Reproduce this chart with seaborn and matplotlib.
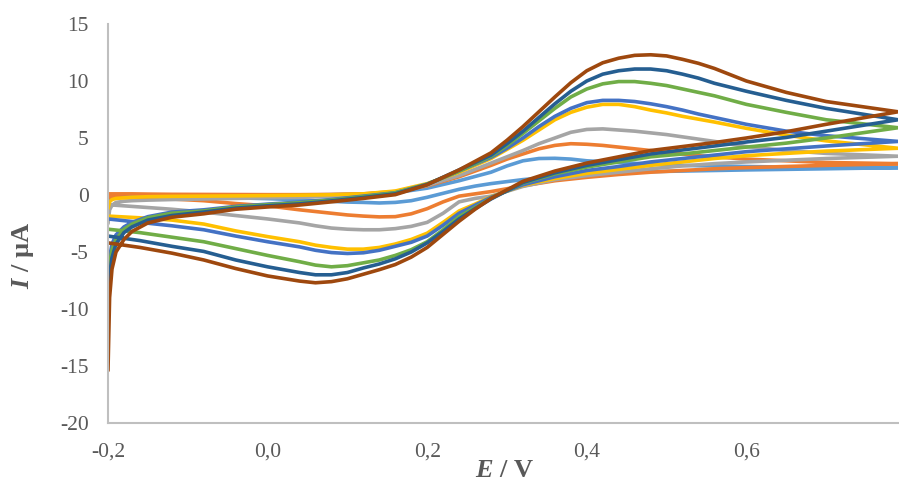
import numpy as np
import pandas as pd
import seaborn as sns
import matplotlib.pyplot as plt

# potentials (V) of the read points: anodic sweep, then cathodic sweep
E_fwd = [-0.2, -0.198, -0.195, -0.19, -0.18, -0.17, -0.15, -0.12, -0.08, -0.04,
         0.0, 0.04, 0.08, 0.12, 0.16, 0.2, 0.24, 0.28,
         0.30, 0.32, 0.34, 0.36, 0.38, 0.40, 0.42, 0.44, 0.46, 0.48, 0.50, 0.52, 0.54, 0.56,
         0.60, 0.65, 0.70, 0.79]
E_rev = [0.79, 0.70, 0.65, 0.60, 0.56, 0.52, 0.48, 0.44, 0.40, 0.36, 0.32,
         0.28, 0.26, 0.24, 0.22, 0.20, 0.18, 0.16, 0.14, 0.12, 0.10, 0.08, 0.06, 0.04,
         0.0, -0.04, -0.08, -0.12, -0.16, -0.2]

# currents (uA), one pair of sweeps per scan rate
lightblue_fwd = [-0.8, -0.5, -0.3, -0.2, -0.15, -0.12, -0.1, -0.08, -0.06, -0.04,
                 -0.02, 0.0, 0.03, 0.08, 0.2, 0.6, 1.25, 2.0,
                 2.55, 3.0, 3.2, 3.22, 3.15, 3.0, 2.92, 2.85, 2.78, 2.7, 2.65, 2.6, 2.57, 2.55,
                 2.5, 2.45, 2.42, 2.4]
lightblue_rev = [2.4, 2.3, 2.25, 2.2, 2.15, 2.1, 2.05, 1.95, 1.8, 1.6, 1.35,
                 1.0, 0.78, 0.5, 0.15, -0.2, -0.5, -0.65, -0.7, -0.65, -0.62, -0.55, -0.5, -0.42,
                 -0.32, -0.25, -0.2, -0.15, -0.1, -0.05]
orange_fwd = [0.1, 0.1, 0.1, 0.1, 0.1, 0.1, 0.08, 0.06, 0.05, 0.04,
              0.03, 0.03, 0.05, 0.1, 0.3, 0.8, 1.6, 2.6,
              3.15, 3.6, 4.05, 4.35, 4.5, 4.45, 4.35, 4.2, 4.05, 3.9, 3.75, 3.6, 3.45, 3.35,
              3.15, 3.0, 2.85, 2.75]
orange_rev = [2.75, 2.6, 2.5, 2.4, 2.3, 2.15, 2.0, 1.8, 1.55, 1.25, 0.8,
              0.3, 0.1, -0.1, -0.6, -1.2, -1.65, -1.9, -1.92, -1.85, -1.75, -1.6, -1.45, -1.3,
              -0.95, -0.75, -0.5, -0.35, -0.25, -0.2]
gray_fwd = [-2.5, -1.3, -0.9, -0.65, -0.55, -0.5, -0.45, -0.4, -0.35, -0.3,
            -0.25, -0.2, -0.12, 0.0, 0.25, 0.85, 1.7, 2.8,
            3.35, 3.9, 4.5, 5.0, 5.5, 5.75, 5.8, 5.7, 5.6, 5.45, 5.3, 5.1, 4.9, 4.7,
            4.25, 3.9, 3.65, 3.4]
gray_rev = [3.4, 3.2, 3.05, 2.9, 2.75, 2.55, 2.3, 2.0, 1.7, 1.35, 0.75,
            -0.1, -0.3, -0.6, -1.6, -2.4, -2.75, -2.95, -3.05, -3.05, -3.0, -2.9, -2.7, -2.45,
            -2.1, -1.8, -1.5, -1.25, -1.05, -0.85]
yellow_fwd = [-1.2, -0.6, -0.4, -0.3, -0.25, -0.2, -0.15, -0.12, -0.1, -0.08,
              -0.05, -0.02, 0.02, 0.1, 0.35, 1.0, 2.0, 3.2,
              4.0, 4.8, 5.7, 6.6, 7.25, 7.7, 7.95, 7.95, 7.75, 7.45, 7.2, 6.9, 6.65, 6.4,
              5.85, 5.25, 4.75, 4.1]
yellow_rev = [4.1, 3.85, 3.65, 3.45, 3.2, 2.9, 2.6, 2.25, 1.9, 1.45, 0.85,
              -0.15, -0.8, -1.4, -2.4, -3.35, -3.9, -4.3, -4.6, -4.75, -4.75, -4.6, -4.4, -4.1,
              -3.65, -3.15, -2.55, -2.2, -2.0, -1.85]
blue_fwd = [-7.5, -5.5, -4.3, -3.5, -2.8, -2.4, -1.9, -1.5, -1.3, -1.0,
            -0.8, -0.62, -0.4, -0.1, 0.2, 0.95, 2.1, 3.3,
            4.1, 5.0, 6.0, 6.9, 7.6, 8.1, 8.3, 8.3, 8.2, 8.0, 7.75, 7.45, 7.1, 6.8,
            6.2, 5.6, 5.2, 4.7]
blue_rev = [4.7, 4.3, 4.05, 3.8, 3.5, 3.2, 2.9, 2.5, 2.15, 1.6, 0.9,
            -0.2, -0.9, -1.6, -2.65, -3.6, -4.15, -4.5, -4.85, -5.07, -5.13, -5.05, -4.85, -4.55,
            -4.1, -3.6, -3.05, -2.7, -2.4, -2.1]
green_fwd = [-8.5, -6.0, -4.8, -3.9, -3.0, -2.55, -2.0, -1.6, -1.4, -1.05,
             -0.85, -0.68, -0.45, -0.15, 0.18, 0.95, 2.1, 3.4,
             4.35, 5.4, 6.5, 7.6, 8.6, 9.3, 9.75, 9.95, 9.95, 9.8, 9.6, 9.3, 9.0, 8.7,
             7.95, 7.25, 6.6, 5.9]
green_rev = [5.9, 5.0, 4.55, 4.2, 3.9, 3.6, 3.35, 2.9, 2.45, 1.85, 1.05,
             -0.3, -1.1, -1.9, -3.05, -4.1, -4.8, -5.3, -5.7, -5.95, -6.2, -6.3, -6.15, -5.85,
             -5.3, -4.7, -4.1, -3.7, -3.3, -3.0]
darkblue_fwd = [-10.0, -7.0, -5.5, -4.3, -3.3, -2.8, -2.2, -1.8, -1.5, -1.15,
                -0.95, -0.78, -0.52, -0.22, 0.1, 0.92, 2.2, 3.5,
                4.5, 5.6, 6.8, 8.0, 9.1, 10.0, 10.6, 10.9, 11.05, 11.05, 10.9, 10.6, 10.25, 9.8,
                9.1, 8.3, 7.6, 6.6]
darkblue_rev = [6.6, 5.6, 5.05, 4.65, 4.3, 3.95, 3.6, 3.1, 2.6, 1.95, 1.1,
                -0.35, -1.2, -2.1, -3.2, -4.2, -5.0, -5.6, -6.05, -6.4, -6.8, -7.0, -7.0, -6.8,
                -6.3, -5.7, -4.95, -4.5, -4.0, -3.6]
brown_fwd = [-15.4, -9.0, -6.5, -5.0, -3.9, -3.2, -2.45, -1.95, -1.65, -1.25,
             -1.05, -0.88, -0.6, -0.3, 0.03, 0.9, 2.2, 3.7,
             4.8, 6.0, 7.3, 8.6, 9.85, 10.9, 11.6, 12.0, 12.25, 12.3, 12.2, 11.9, 11.55, 11.1,
             10.0, 9.0, 8.2, 7.3]
brown_rev = [7.3, 6.2, 5.55, 5.0, 4.6, 4.25, 3.9, 3.35, 2.8, 2.1, 1.2,
             -0.3, -1.25, -2.3, -3.45, -4.6, -5.45, -6.1, -6.55, -6.95, -7.35, -7.6, -7.7, -7.55,
             -7.1, -6.45, -5.7, -5.1, -4.6, -4.2]

series_names = ["c1", "c2", "c3", "c4", "c5", "c6", "c7", "c8"]
series_colors = ["#5B9BD5", "#ED7D31", "#A5A5A5", "#FFC000",
                 "#4472C4", "#70AD47", "#255E91", "#9E480E"]
sweeps = [(lightblue_fwd, lightblue_rev), (orange_fwd, orange_rev),
          (gray_fwd, gray_rev), (yellow_fwd, yellow_rev),
          (blue_fwd, blue_rev), (green_fwd, green_rev),
          (darkblue_fwd, darkblue_rev), (brown_fwd, brown_rev)]

x_ticks = [-0.2, 0.0, 0.2, 0.4, 0.6]
x_ticklabels = ["-0,2", "0,0", "0,2", "0,4", "0,6"]
y_ticks = [-20, -15, -10, -5, 0, 5, 10, 15]
y_ticklabels = ["-20", "-15", "-10", "-5", "0", "5", "10", "15"]

rows = []
for name, (fwd, rev) in zip(series_names, sweeps):
    E = E_fwd + E_rev
    I = fwd + rev
    for k in range(len(E)):
        rows.append({"series": name, "E": E[k], "I": I[k], "k": k})
df = pd.DataFrame(rows)

sns.set_style("white")
plt.rcParams["font.family"] = ["Liberation Serif", "DejaVu Serif"]
plt.rcParams["mathtext.fontset"] = "custom"
plt.rcParams["mathtext.rm"] = "Liberation Serif"
plt.rcParams["mathtext.bf"] = "Liberation Serif:bold"
plt.rcParams["mathtext.bfit"] = "Liberation Serif:italic:bold"

fig = plt.figure(figsize=(8.99, 4.86), dpi=100)
ax = fig.add_axes([108 / 899, 1 - 423 / 486, 790 / 899, 399 / 486])

sns.lineplot(data=df, x="E", y="I", hue="series", units="series",
             palette=dict(zip(series_names, series_colors)),
             estimator=None, sort=False, legend=False, lw=2.6, ax=ax)

ax.set_xlim(-0.2, 0.79)
ax.set_ylim(-20, 15)
ax.set_xticks(x_ticks)
ax.set_xticklabels(x_ticklabels)
ax.set_yticks(y_ticks)
ax.set_yticklabels(y_ticklabels)
ax.tick_params(length=0, labelsize=15.5, labelcolor="#595959")
ax.tick_params(axis="y", pad=14)
ax.tick_params(axis="x", pad=14)

for side in ["top", "right"]:
    ax.spines[side].set_visible(False)
for side in ["left", "bottom"]:
    ax.spines[side].set_color("#BFBFBF")
    ax.spines[side].set_linewidth(1.5)

ax.set_xlabel(r"$\mathbfit{E}$ / V", fontsize=19, fontweight="bold", color="#595959")
ax.set_ylabel(r"$\mathbfit{I}$ / µA", fontsize=19, fontweight="bold", color="#595959")
ax.xaxis.set_label_coords(0.502, -0.09)
ax.yaxis.set_label_coords(-0.091, 0.42)

fig.savefig("out.png", dpi=100)
